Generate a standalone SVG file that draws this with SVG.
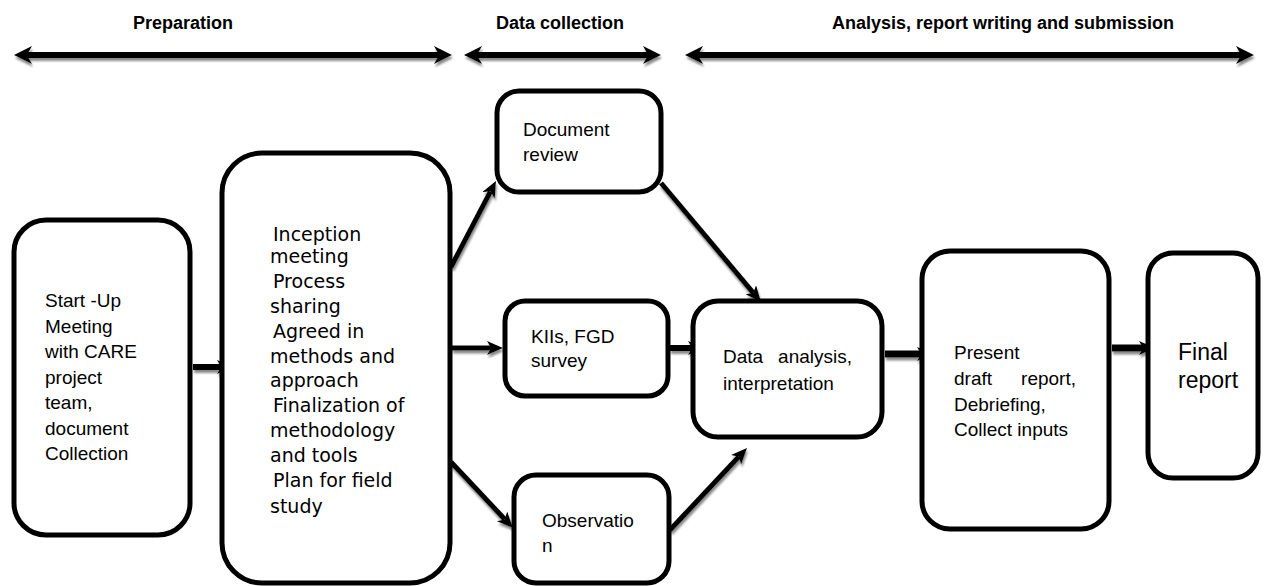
<svg xmlns="http://www.w3.org/2000/svg" width="1270" height="586" viewBox="0 0 1270 586">
<style>
.box{fill:#fff;stroke:#000;stroke-width:5}
.t{font-family:"Liberation Sans",Arial,sans-serif;font-size:19px;fill:#000}
.tv{font-family:"DejaVu Sans",Verdana,sans-serif;font-size:19px;fill:#000}
.h{font-family:"Liberation Sans",Arial,sans-serif;font-size:18px;font-weight:bold;fill:#000;text-anchor:middle}
.c{fill:none;stroke:#000;marker-end:url(#ah)}
.bar{fill:none;stroke:#000;stroke-width:6;marker-start:url(#bh);marker-end:url(#bh)}
</style>
<defs>
<marker id="ah" markerUnits="userSpaceOnUse" markerWidth="16" markerHeight="14" refX="4" refY="7" orient="auto">
<path d="M0,0 L16,7 L0,14 L4,7 z" fill="#000"/>
</marker>
<marker id="bh" markerUnits="userSpaceOnUse" markerWidth="18" markerHeight="18" refX="5" refY="9" orient="auto-start-reverse">
<path d="M0,0 L18,9 L0,18 L5,9 z" fill="#000"/>
</marker>
<filter id="sh" filterUnits="userSpaceOnUse" x="0" y="0" width="1270" height="586">
<feDropShadow dx="1" dy="3" stdDeviation="0.8" flood-color="#8a8a8a"/>
</filter>
</defs>
<rect width="1270" height="586" fill="#fff"/>

<g id="headers">
<text class="h" x="183" y="29">Preparation</text>
<text class="h" x="560" y="29">Data collection</text>
<text class="h" x="1003" y="29">Analysis, report writing and submission</text>
</g>

<g id="phase-bars" filter="url(#sh)">
<path class="bar" d="M27,55 L439,55"/>
<path class="bar" d="M477,55 L648,55"/>
<path class="bar" d="M698,55 L1241,55"/>
</g>

<g id="connectors" filter="url(#sh)">
<path class="c" stroke-width="6" d="M193,367 L221,367"/>
<path class="c" stroke-width="5" d="M451,267 L490.4,191.6"/>
<path class="c" stroke-width="5" d="M452,348 L491,348"/>
<path class="c" stroke-width="5" d="M451,462 L504.8,519.3"/>
<path class="c" stroke-width="5" d="M661,183 L753.3,292.8"/>
<path class="c" stroke-width="6" d="M670,348 L692,348"/>
<path class="c" stroke-width="5" d="M670,530 L738.8,456.8"/>
<path class="c" stroke-width="7" d="M885,354 L921,354"/>
<path class="c" stroke-width="7" d="M1112,348 L1143,348"/>
</g>

<g id="node-startup">
<rect class="box" x="14" y="220" width="176" height="315" rx="32"/>
<text class="t" x="45" y="307">Start -Up</text>
<text class="t" x="45" y="333">Meeting</text>
<text class="t" x="45" y="358">with CARE</text>
<text class="t" x="45" y="384">project</text>
<text class="t" x="45" y="409">team,</text>
<text class="t" x="45" y="435">document</text>
<text class="t" x="45" y="460">Collection</text>
</g>

<g id="node-inception">
<rect class="box" x="222" y="153" width="228" height="430" rx="40"/>
<text class="tv" x="273" y="241">Inception</text>
<text class="tv" x="270" y="263">meeting</text>
<text class="tv" x="273" y="288">Process</text>
<text class="tv" x="270" y="313">sharing</text>
<text class="tv" x="273" y="338">Agreed in</text>
<text class="tv" x="270" y="363">methods and</text>
<text class="tv" x="270" y="387">approach</text>
<text class="tv" x="273" y="412">Finalization of</text>
<text class="tv" x="270" y="437">methodology</text>
<text class="tv" x="270" y="462">and tools</text>
<text class="tv" x="273" y="487">Plan for field</text>
<text class="tv" x="270" y="513">study</text>
</g>

<g id="node-docreview">
<rect class="box" x="497" y="91" width="164" height="101" rx="22"/>
<text class="t" x="523" y="136">Document</text>
<text class="t" x="523" y="161">review</text>
</g>

<g id="node-kiis">
<rect class="box" x="505" y="301" width="163" height="95" rx="20"/>
<text class="t" x="531" y="343">KIIs, FGD</text>
<text class="t" x="531" y="367">survey</text>
</g>

<g id="node-observation">
<rect class="box" x="514" y="475" width="155" height="108" rx="22"/>
<text class="t" x="542" y="527">Observatio</text>
<text class="t" x="542" y="552">n</text>
</g>

<g id="node-analysis">
<rect class="box" x="693" y="301" width="189" height="136" rx="25"/>
<text class="t" x="723" y="363">Data</text>
<text class="t" x="852" y="363" text-anchor="end">analysis,</text>
<text class="t" x="723" y="390">interpretation</text>
</g>

<g id="node-present">
<rect class="box" x="922" y="251" width="187" height="278" rx="28"/>
<text class="t" x="954" y="359">Present</text>
<text class="t" x="954" y="385">draft</text>
<text class="t" x="1076" y="385" text-anchor="end">report,</text>
<text class="t" x="954" y="411">Debriefing,</text>
<text class="t" x="954" y="436">Collect inputs</text>
</g>

<g id="node-final">
<rect class="box" x="1148" y="253" width="110" height="225" rx="25"/>
<text class="t" x="1178" y="360" style="font-size:23px">Final</text>
<text class="t" x="1178" y="388" style="font-size:23px">report</text>
</g>
</svg>
